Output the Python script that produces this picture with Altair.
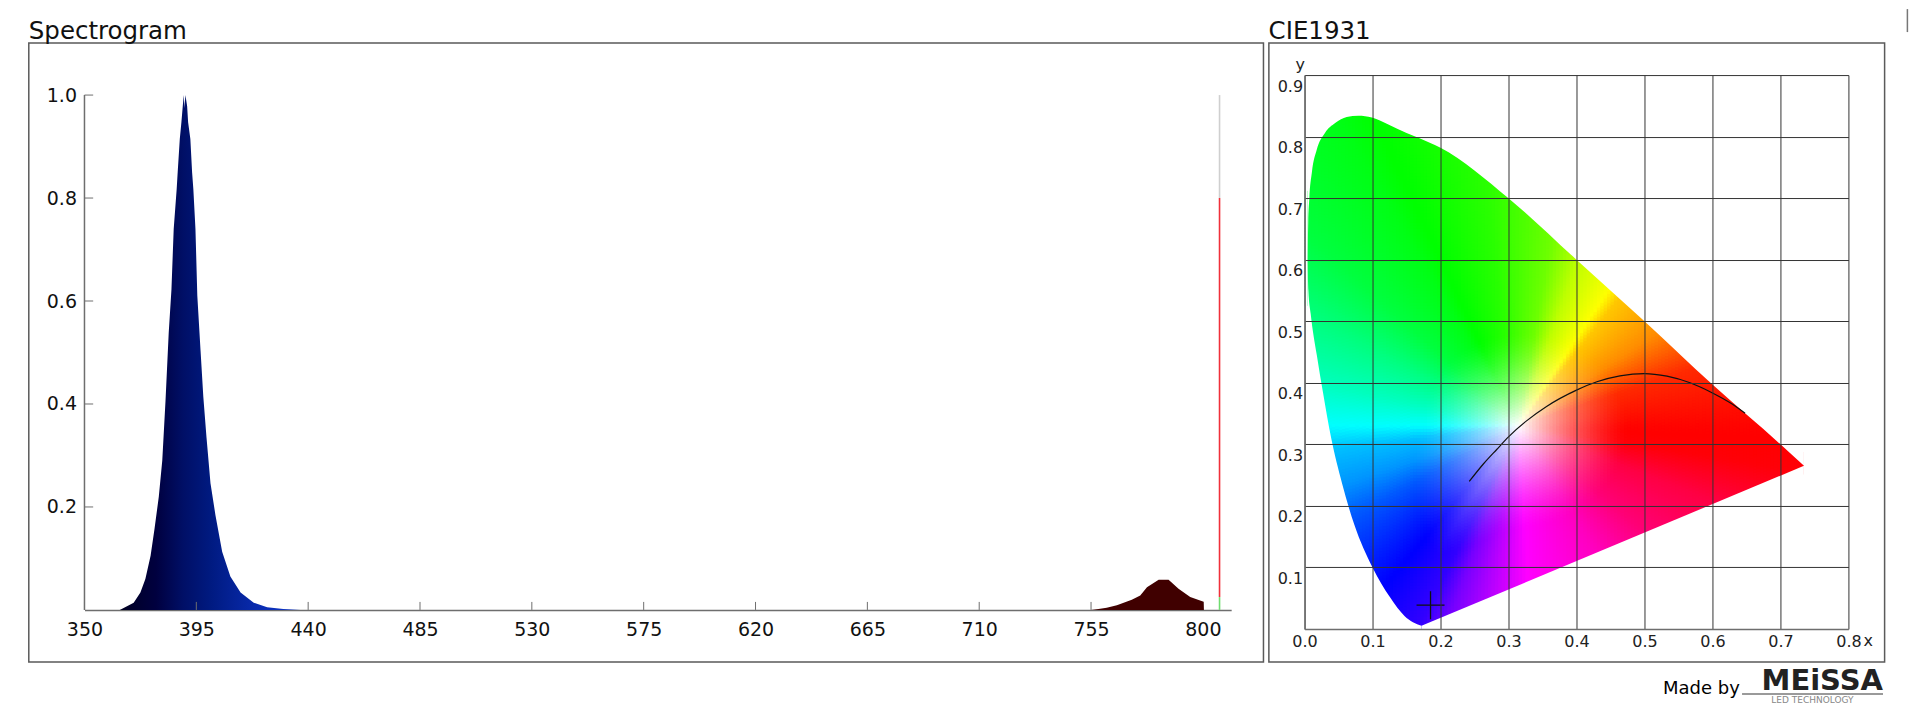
import numpy as np
import pandas as pd
import altair as alt

FONT = "DejaVu Sans"
FRAME = "#5a5a5a"
AXIS = "#6e6e6e"
GRID = "#333333"

# ---------- spectrum ----------
blue_nm = [364.2, 369.8, 372.5, 374.5, 376.6, 378.2, 379.9, 381.3, 382.6, 383.9, 385.0, 385.9, 387.1, 387.5, 388.35,
           389.0, 389.55, 389.95, 390.25, 390.6, 391.3, 391.7, 392.6, 393.3, 393.8, 394.65, 395.4, 396.7, 397.8,
           399.1, 400.7, 402.7, 405.4, 408.7, 412.8, 418.1, 423.5, 430.0, 436.9]
blue_v = [0.0, 0.014, 0.034, 0.06, 0.105, 0.158, 0.22, 0.29, 0.406, 0.539, 0.623, 0.74, 0.8175, 0.85, 0.9146,
          0.947, 0.979, 1.0, 0.975, 1.0, 0.979, 0.947, 0.9146, 0.85, 0.8175, 0.74, 0.61, 0.504, 0.415,
          0.335, 0.246, 0.184, 0.113, 0.065, 0.034, 0.014, 0.005, 0.002, 0.0]
red_nm = [755.0, 758.0, 761.3, 765.4, 771.4, 774.8, 777.5, 782.2, 786.2, 790.2, 794.9, 800.3, 800.4]
red_v = [0.0, 0.002, 0.004, 0.009, 0.02, 0.028, 0.044, 0.0585, 0.0585, 0.041, 0.025, 0.016, 0.0]
spike_nm = 806.7
spike_lo = [0.8, 0.025, 0.0]
spike_hi = [1.0, 0.8, 0.025]
spike_col = ["#cfcfcf", "#f0303a", "#6fdc6f"]
x_ticks = [350, 395, 440, 485, 530, 575, 620, 665, 710, 755, 800]
y_ticks = [0.2, 0.4, 0.6, 0.8, 1.0]

# ---------- CIE 1931 ----------
cie_ticks_x = [0.0, 0.1, 0.2, 0.3, 0.4, 0.5, 0.6, 0.7, 0.8]
cie_ticks_y = [0.1, 0.2, 0.3, 0.4, 0.5, 0.6, 0.7, 0.8, 0.9]
upper_x = [0.0044, 0.0054, 0.0069, 0.0108, 0.018, 0.030, 0.045, 0.062, 0.079, 0.099, 0.121, 0.15, 0.17, 0.2, 0.3, 0.4, 0.5, 0.6, 0.7, 0.7346]
upper_y = [0.60, 0.661, 0.698, 0.742, 0.779, 0.806, 0.822, 0.832, 0.834, 0.831, 0.821, 0.806, 0.797, 0.782, 0.7, 0.6, 0.5, 0.397, 0.30, 0.265]
curve_x = [0.0044, 0.0056, 0.009, 0.018, 0.027, 0.039, 0.055, 0.073, 0.1, 0.126, 0.147, 0.172]
curve_y = [0.60, 0.55, 0.512, 0.445, 0.385, 0.311, 0.237, 0.17, 0.1, 0.051, 0.021, 0.005]
purple_x = [0.172, 0.7346]
purple_y = [0.005, 0.265]
lower_x = curve_x + purple_x[1:]
lower_y = curve_y + purple_y[1:]
locus_x = [0.2422, 0.263, 0.283, 0.3, 0.327, 0.356, 0.4, 0.43, 0.464, 0.5, 0.533, 0.567, 0.6, 0.626, 0.648]
locus_y = [0.2396, 0.268, 0.292, 0.312, 0.3385, 0.3615, 0.388, 0.4016, 0.4112, 0.415, 0.4107, 0.40, 0.3835, 0.3675, 0.3505]
mark_xy = [0.1853, 0.0386]

# Hue and fade seen in the diagram by direction round the white point
white_xy = (0.315, 0.33)
dir_deg = [-180, -172, -159.6, -149, -127, -114, -108, -100.6, -87, -61, -43, -23, -10, 0, 20, 36.5, 54.7, 59, 72, 81, 97, 113, 118, 135, 150, 167, 180]
dir_hue = [180, 195, 205, 219, 240, 252, 268, 280, 300, 315, 332, 344, 358, 361, 370, 393, 407, 420, 435, 454, 470, 480, 485, 495, 510, 525, 540]
fade_deg = [-180, -149, -120, -100, -87, 0, 180]
fade_dist = [0.11, 0.14, 0.19, 0.14, 0.13, 0.125, 0.11]
cell = 0.005
cell_w = cell * 1.35


def hsv_hex(h, s):
    h = h % 360
    c = s
    x = c * (1 - abs((h / 60) % 2 - 1))
    m = 1 - c
    i = int(h // 60)
    r, g, b = [(c, x, 0), (x, c, 0), (0, c, x), (0, x, c), (x, 0, c), (c, 0, x)][i]
    return "#%02x%02x%02x" % (int((r + m) * 255), int((g + m) * 255), int((b + m) * 255))


rows = []
for cx in np.arange(0, 0.74, cell):
    up = max(np.interp(cx, upper_x, upper_y), np.interp(cx + cell_w, upper_x, upper_y)) + 0.012
    lo = min(np.interp(cx, lower_x, lower_y), np.interp(cx + cell_w, lower_x, lower_y)) - 0.012
    for cy in np.arange(max(lo, 0), up, cell):
        dx, dy = cx + cell / 2 - white_xy[0], cy + cell / 2 - white_xy[1]
        ang = np.degrees(np.arctan2(dy, dx))
        hue = np.interp(ang, dir_deg, dir_hue)
        t = min(1.0, np.hypot(dx, dy) / (1.3 * np.interp(ang, fade_deg, fade_dist)))
        sat = 1 - (1 - t) ** 1.5
        rows.append({"a": round(float(cx), 4), "a2": round(float(cx + cell_w), 4),
                     "b": round(float(cy), 4), "b2": round(float(cy + cell_w), 4),
                     "c": hsv_hex(float(hue), float(sat))})
cells = pd.DataFrame(rows)

L_W, P_H, R_W = 1147, 554, 544
L_H = 535
lx = alt.Scale(domain=[350, 350 + L_W / 2.486], nice=False, zero=False)
ly = alt.Scale(domain=[0, L_H / 515], nice=False, zero=False)
rx = alt.Scale(domain=[0, 0.8], nice=False, zero=False)
ry = alt.Scale(domain=[0, 0.9], nice=False, zero=False)
FR_T, FR_B = -32.2, 587

lxa = alt.Axis(values=x_ticks, title=None, grid=False, tickSize=0, labelPadding=11, labelFontSize=19, labelFont=FONT,
               labelColor="#111111", domainColor=AXIS, domainWidth=1.5, labelFlush=False, labelOverlap=False)
lya = alt.Axis(values=y_ticks, title=None, grid=False, tickSize=0, domain=False, labelPadding=8, labelFontSize=19,
               labelFont=FONT, labelColor="#111111", format=".1f", labelOverlap=False, labelFlush=False)
rxa = alt.Axis(values=cie_ticks_x, title=None, grid=True, gridColor=GRID, gridWidth=1, tickSize=0, labelPadding=5,
               labelFontSize=16, labelFont=FONT, labelColor="#222222", domainColor=AXIS, domainWidth=1.5,
               format=".1f", labelFlush=False, labelOverlap=False, zindex=1)
rya = alt.Axis(values=cie_ticks_y, title=None, grid=True, gridColor=GRID, gridWidth=1, tickSize=0, labelPadding=2,
               labelFontSize=16, labelFont=FONT, labelColor="#222222", domainColor=AXIS, domainWidth=1.5,
               format=".1f", labelBaseline="top", labelOffset=3, labelFlush=False, labelOverlap=False, zindex=1)


def LX(f):
    return alt.X(f, scale=lx, axis=lxa)


def LY(f):
    return alt.Y(f, scale=ly, axis=lya)


def RX(f):
    return alt.X(f, scale=rx, axis=rxa)


def RY(f):
    return alt.Y(f, scale=ry, axis=rya)


def frame(x0, x1):
    return alt.Chart(pd.DataFrame({"k": [0]})).mark_rect(filled=False, stroke=FRAME, strokeWidth=1.5).encode(
        x=alt.value(x0), x2=alt.value(x1), y=alt.value(FR_T), y2=alt.value(FR_B))


def label(text, x, y, size, color="#111111", align="left", weight="normal"):
    return alt.Chart(pd.DataFrame({"t": [text]})).mark_text(
        font=FONT, fontSize=size, color=color, align=align, baseline="alphabetic", fontWeight=weight
    ).encode(x=alt.value(x), y=alt.value(y), text="t:N")


# ---------- left panel ----------
base = alt.Chart(pd.DataFrame({"nm": blue_nm, "v": blue_v})).mark_area(
    line=False,
    color=alt.Gradient(gradient="linear", x1=0, x2=1, y1=0, y2=0, stops=[
        alt.GradientStop(offset=0, color="#000022"),
        alt.GradientStop(offset=0.2, color="#00003f"),
        alt.GradientStop(offset=0.35, color="#000f66"),
        alt.GradientStop(offset=0.5, color="#001a80"),
        alt.GradientStop(offset=0.8, color="#0a2db5"),
        alt.GradientStop(offset=1, color="#1038c8"),
    ])
).encode(x=LX("nm:Q"), y=LY("v:Q"))
red_area = alt.Chart(pd.DataFrame({"nm": red_nm, "v": red_v})).mark_area(color="#400000").encode(x=LX("nm:Q"), y=LY("v:Q"))
spike = alt.Chart(pd.DataFrame({"nm": [spike_nm] * 3, "lo": spike_lo, "hi": spike_hi, "c": spike_col})).mark_rule(
    strokeWidth=1.6).encode(x=LX("nm:Q"), y=LY("lo:Q"), y2="hi:Q", color=alt.Color("c:N", scale=None, legend=None))
y_axis_line = alt.Chart(pd.DataFrame({"nm": [350], "lo": [0], "hi": [1]})).mark_rule(color=AXIS, strokeWidth=1.5).encode(
    x=LX("nm:Q"), y=LY("lo:Q"), y2="hi:Q")
ytick_marks = alt.Chart(pd.DataFrame({"v": y_ticks})).mark_rule(color=AXIS, strokeWidth=1).encode(
    y=LY("v:Q"), x=alt.value(0), x2=alt.value(8.7))
xtick_marks = alt.Chart(pd.DataFrame({"nm": x_ticks})).mark_rule(color=AXIS, strokeWidth=1).encode(
    x=LX("nm:Q"), y=alt.value(L_H), y2=alt.value(L_H - 8))

left = alt.layer(base, xtick_marks, ytick_marks, red_area, spike, y_axis_line, frame(-55.7, 1179.3),
                 label("Spectrogram", -55.7, -36, 24.5)).properties(width=L_W, height=L_H)

# ---------- right panel ----------
field = alt.Chart(cells).mark_rect(strokeWidth=0).encode(
    x=RX("a:Q"), x2="a2:Q", y=RY("b:Q"), y2="b2:Q", color=alt.Color("c:N", scale=None, legend=None))
top_mask = alt.Chart(pd.DataFrame({"x": upper_x, "y": upper_y, "t": [0.9] * len(upper_x)})).mark_area(
    color="white", interpolate="monotone").encode(x=RX("x:Q"), y=RY("y:Q"), y2="t:Q")
curve_mask = alt.Chart(pd.DataFrame({"x": curve_x, "y": curve_y, "t": [0.0] * len(curve_x)})).mark_area(
    color="white", interpolate="monotone").encode(x=RX("x:Q"), y=RY("y:Q"), y2="t:Q")
purple_mask = alt.Chart(pd.DataFrame({"x": purple_x, "y": purple_y, "t": [0.0] * 2})).mark_area(
    color="white").encode(x=RX("x:Q"), y=RY("y:Q"), y2="t:Q")
side_mask = alt.Chart(pd.DataFrame({"x": [upper_x[-1], 0.0], "x2": [0.8, upper_x[0]], "y": [0.0, 0.0], "y2": [0.9, 0.9]})).mark_rect(color="white").encode(
    x=RX("x:Q"), x2="x2:Q", y=RY("y:Q"), y2="y2:Q")
locus = alt.Chart(pd.DataFrame({"x": locus_x, "y": locus_y})).mark_line(color="#111111", strokeWidth=1.2, interpolate="monotone").encode(
    x=RX("x:Q"), y=RY("y:Q"))
cross = alt.Chart(pd.DataFrame({"x": [mark_xy[0]], "y": [mark_xy[1]]})).mark_point(
    shape="M-1,0L1,0M0,-1L0,1", size=784, color="#111111", strokeWidth=1.3, filled=False, opacity=1).encode(
    x=RX("x:Q"), y=RY("y:Q"))
logo_line = alt.Chart(pd.DataFrame({"k": [0]})).mark_rule(color="#9a9a9a", strokeWidth=2).encode(
    x=alt.value(437.6), x2=alt.value(578.6), y=alt.value(619))
corner = alt.Chart(pd.DataFrame({"k": [0]})).mark_rule(color="#777777", strokeWidth=1.5).encode(
    x=alt.value(603), y=alt.value(-66), y2=alt.value(-43))

right = alt.layer(field, top_mask, curve_mask, purple_mask, side_mask, locus, cross, frame(-35.7, 580.2),
                  label("CIE1931", -36, -36, 24.5),
                  label("y", -9, -5, 16, "#222222"), label("x", 559, 571, 16, "#222222"),
                  label("Made by", 358.6, 619, 18, "#000000"),
                  label("MEiSSA", 578.6, 615, 29, "#222222", "right", "bold"),
                  logo_line,
                  label("LED TECHNOLOGY", 508, 628, 9, "#888888", "center"),
                  corner).properties(width=R_W, height=P_H)

chart = alt.hconcat(left, right, spacing=73.4, bounds="flush").properties(
    padding={"left": 19.5, "top": 0, "right": 0, "bottom": 0}, background="white"
).configure_view(stroke=None)

chart.save("out.html", embed_options={"renderer": "svg", "actions": False})
